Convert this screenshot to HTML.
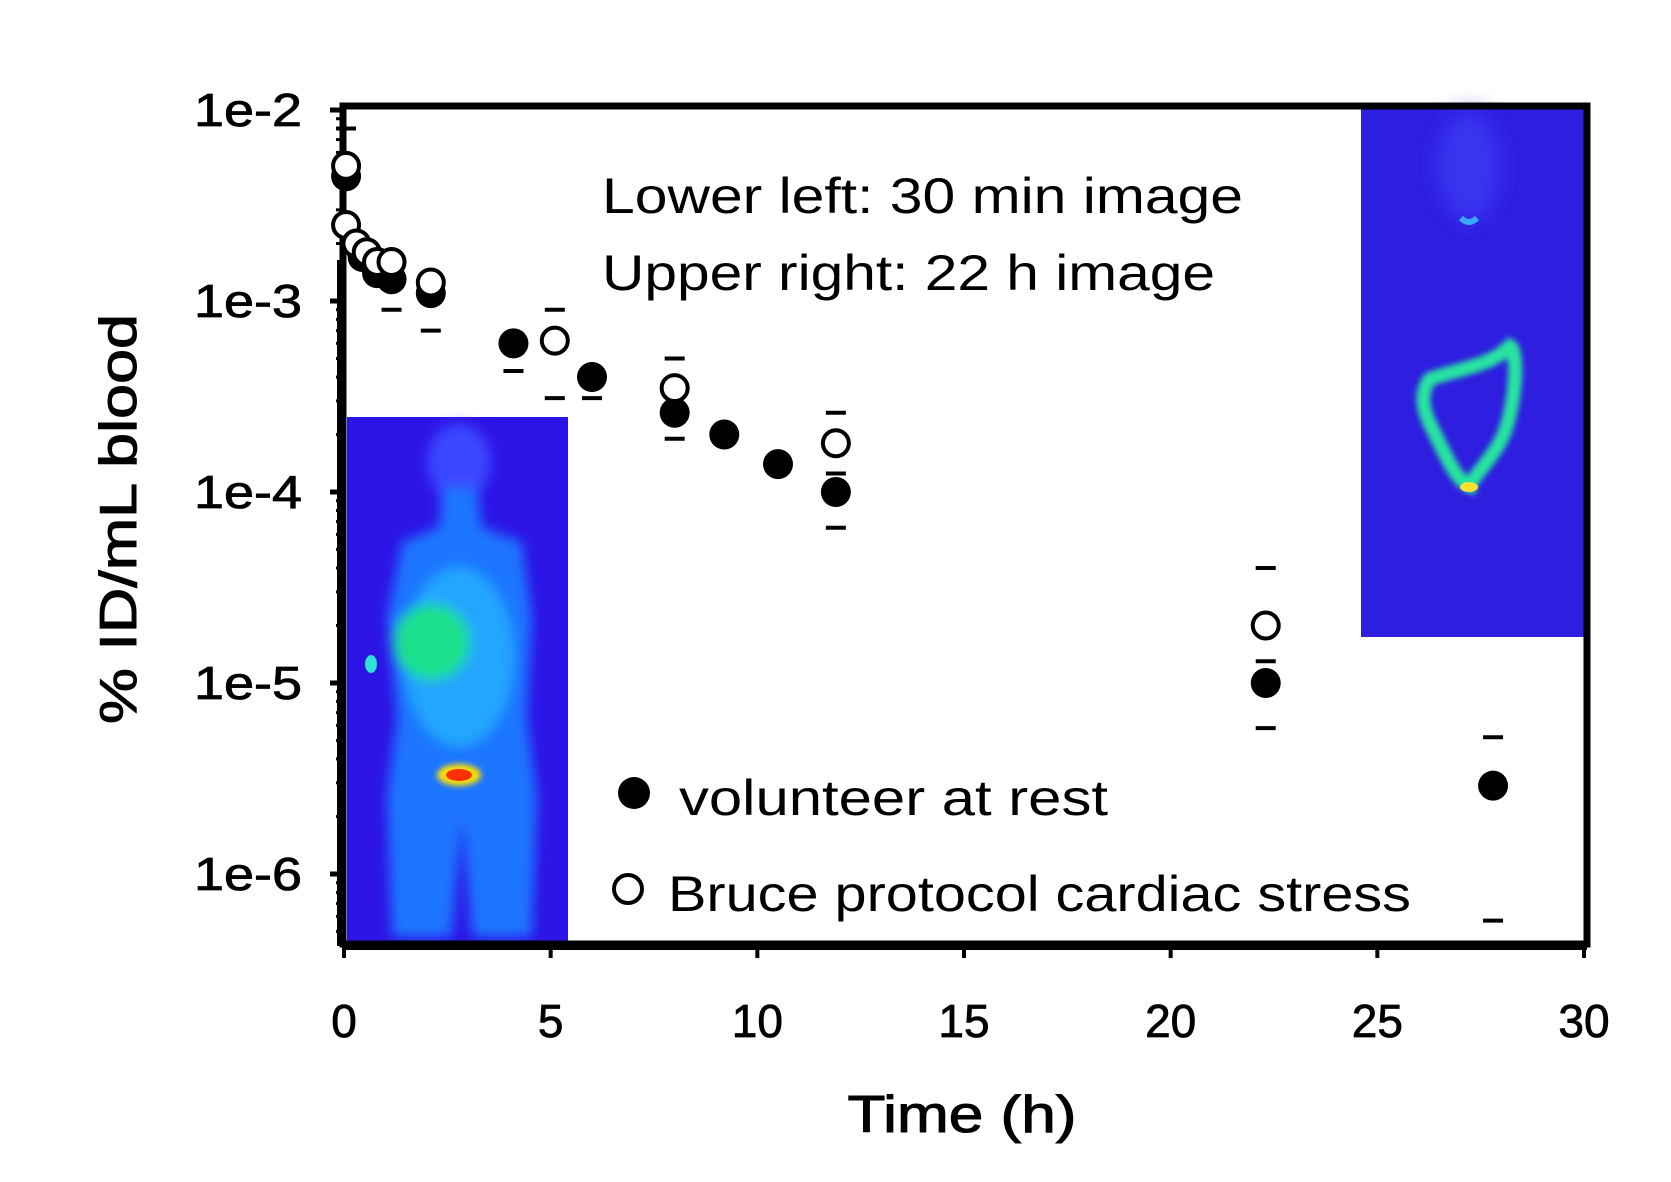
<!DOCTYPE html>
<html><head><meta charset="utf-8"><style>
html,body{margin:0;padding:0;background:#fff;}
svg{display:block;}
</style></head><body>
<svg id="chart" width="1671" height="1182" viewBox="0 0 1671 1182" xmlns="http://www.w3.org/2000/svg">
<defs>
<filter id="blur6" x="-50%" y="-50%" width="200%" height="200%"><feGaussianBlur stdDeviation="6"/></filter>
<filter id="blur3" x="-50%" y="-50%" width="200%" height="200%"><feGaussianBlur stdDeviation="3"/></filter>
<filter id="blur10" x="-50%" y="-50%" width="200%" height="200%"><feGaussianBlur stdDeviation="10"/></filter>
</defs>
<rect width="1671" height="1182" fill="#fff"/>
<g id="insets"></g>
<g id="axes"></g>
<g id="marks"></g>
<text x="602" y="213" font-family="Liberation Sans, sans-serif" font-size="50" textLength="641" lengthAdjust="spacingAndGlyphs">Lower left: 30 min image</text>
<text x="602" y="290" font-family="Liberation Sans, sans-serif" font-size="50" textLength="613" lengthAdjust="spacingAndGlyphs">Upper right: 22 h image</text>
<g>
<circle cx="634" cy="793" r="16" fill="#000"/>
<text x="679" y="815" font-family="Liberation Sans, sans-serif" font-size="50" textLength="429" lengthAdjust="spacingAndGlyphs">volunteer at rest</text>
<circle cx="628" cy="889" r="14" fill="#fff" stroke="#000" stroke-width="4"/>
<text x="668" y="911" font-family="Liberation Sans, sans-serif" font-size="50" textLength="743" lengthAdjust="spacingAndGlyphs">Bruce protocol cardiac stress</text>
</g>
<text x="962" y="1132" text-anchor="middle" font-family="Liberation Sans, sans-serif" font-size="52" textLength="229" lengthAdjust="spacingAndGlyphs" stroke="#000" stroke-width="1">Time (h)</text>
<text transform="translate(136,519) rotate(-90)" text-anchor="middle" font-family="Liberation Sans, sans-serif" font-size="52" textLength="410" lengthAdjust="spacingAndGlyphs" stroke="#000" stroke-width="1">% ID/mL blood</text>
</svg>
<script>
// data
const restTimes = [0.05, 0.45, 0.8, 1.15, 2.1, 4.1, 6.0, 8.0, 9.2, 10.5, 11.9, 22.3, 27.8];
const restValues = [4.5e-3, 1.7e-3, 1.4e-3, 1.3e-3, 1.1e-3, 6.0e-4, 4.0e-4, 2.6e-4, 2.0e-4, 1.4e-4, 1.0e-4, 1.0e-5, 2.9e-6];
const restErrLo = [null, null, null, 9e-4, 7e-4, 4.3e-4, 3.1e-4, 1.9e-4, null, null, 6.5e-5, 5.8e-6, 5.7e-7];
const restErrHi = [8e-3, null, null, null, null, null, null, null, null, null, null, null, 5.2e-6];
const stressTimes = [0.05, 0.05, 0.3, 0.55, 0.8, 1.15, 2.1, 5.1, 8.0, 11.9, 22.3];
const stressValues = [5.1e-3, 2.5e-3, 2.0e-3, 1.8e-3, 1.6e-3, 1.6e-3, 1.25e-3, 6.2e-4, 3.5e-4, 1.8e-4, 2.0e-5];
const stressErrLo = [null, null, null, null, null, null, null, 3.1e-4, null, 1.25e-4, 1.3e-5];
const stressErrHi = [null, null, null, null, null, null, null, 9e-4, 5e-4, 2.6e-4, 4e-5];
const xTicks = [0, 5, 10, 15, 20, 25, 30];
const yTicks = [1e-2, 1e-3, 1e-4, 1e-5, 1e-6];
const yTickLabels = ["1e-2", "1e-3", "1e-4", "1e-5", "1e-6"];

const NS = "http://www.w3.org/2000/svg";
const X0 = 344, X1 = 1584, XMAX = 30;
const Y_TOP = 110, DEC = 191;
function xs(t){ return X0 + (X1 - X0) * t / XMAX; }
function ys(v){ return Y_TOP + (-2 - Math.log10(v)) * DEC; }
function mk(tag, attrs, parent){ const e = document.createElementNS(NS, tag); for (const k in attrs) e.setAttribute(k, attrs[k]); parent.appendChild(e); return e; }

// insets
const ins = document.getElementById('insets');
const L = mk('g', {transform:'translate(347,417)'}, ins);


mk('rect', {x:0,y:0,width:221,height:527,fill:'#2d14e6'}, L);
const bodyL = mk('g', {filter:'url(#blur6)'}, L);
mk('ellipse', {cx:112,cy:45,rx:32,ry:38,fill:'#3a46ff'}, bodyL);
mk('path', {d:'M95 70 L130 70 L135 110 L175 125 L185 200 L180 300 L190 380 L185 520 L125 520 L115 400 L105 520 L45 520 L40 380 L50 300 L40 200 L55 125 L92 110 Z', fill:'#1f74ff'}, bodyL);
mk('ellipse', {cx:112,cy:240,rx:55,ry:90,fill:'#22a6ff'}, bodyL);
mk('ellipse', {cx:85,cy:225,rx:38,ry:38,fill:'#1ee08c'}, bodyL);
mk('ellipse', {cx:24,cy:247,rx:6,ry:9,fill:'#30e0d0'}, L);
mk('ellipse', {cx:112,cy:358,rx:22,ry:11,fill:'#ffe000',filter:'url(#blur3)'}, L);
mk('ellipse', {cx:112,cy:358,rx:13,ry:6,fill:'#ff3000'}, L);

const R = mk('g', {transform:'translate(1361,106)'}, ins);


mk('rect', {x:0,y:0,width:227,height:531,fill:'#2e1ee0'}, R);
mk('ellipse', {cx:108,cy:60,rx:32,ry:55,fill:'#3834f0',filter:'url(#blur10)'}, R);
mk('path', {d:'M100 112 q8 8 16 0', stroke:'#3aa8ff', 'stroke-width':6, fill:'none'}, R);
mk('path', {d:'M69 273 C100 262 130 260 149 240 C158 245 155 300 142 330 C130 355 112 370 109 380 C95 375 85 350 70 320 C60 300 60 285 69 273 Z', stroke:'#26e4a0', 'stroke-width':14, fill:'none', filter:'url(#blur3)'}, R);
mk('ellipse', {cx:108,cy:381,rx:9,ry:5,fill:'#ffe030'}, R);

// axes
const ax = document.getElementById('axes');
const frame = mk('path', {d:'M343 106 L1587 106 L1587 944 L343 944 Z', fill:'none', stroke:'#000', 'stroke-width':7}, ax);


mk('line', {x1:341,y1:260,x2:341,y2:946,stroke:'#000','stroke-width':8}, ax);
mk('line', {x1:343,y1:946,x2:1587,y2:946,stroke:'#000','stroke-width':8}, ax);
xTicks.forEach((t, i) => {
  const x = xs(t);
  mk('line', {x1:x,y1:944,x2:x,y2:958,stroke:'#000','stroke-width':4}, ax);
  const lb = mk('text', {x:x, y:1037, 'text-anchor':'middle', 'font-family':'Liberation Sans, sans-serif', 'font-size':46, stroke:'#000','stroke-width':0.8}, ax);
  
  
  lb.textContent = String(t);
});
yTicks.forEach((v, i) => {
  const y = ys(v);
  mk('line', {x1:330,y1:y,x2:345,y2:y,stroke:'#000','stroke-width':5}, ax);
  const lb = mk('text', {x:302, y:y+16, 'text-anchor':'end', 'font-family':'Liberation Sans, sans-serif', 'font-size':46, stroke:'#000','stroke-width':0.8, textLength:108, lengthAdjust:'spacingAndGlyphs'}, ax);
  
  
  lb.textContent = yTickLabels[i];
  for (let m = 2; m <= 9; m++) {
    const my = ys(v / 10 * m);
    if (my < 944) mk('line', {x1:336,y1:my,x2:345,y2:my,stroke:'#000','stroke-width':3}, ax);
  }
});

// marks
const mg = document.getElementById('marks');
function errBars(times, lo, hi, name){
  times.forEach((t, i) => {
    [lo[i], hi[i]].forEach(v => {
      if (v == null) return;
      const c = mk('line', {x1:xs(t)-10, y1:ys(v), x2:xs(t)+10, y2:ys(v), stroke:'#000','stroke-width':4}, mg);
      
      
    });
  });
}
errBars(restTimes, restErrLo, restErrHi, 'rest-error-cap');
errBars(stressTimes, stressErrLo, stressErrHi, 'stress-error-cap');
restTimes.forEach((t, i) => {
  const c = mk('circle', {cx:xs(t), cy:ys(restValues[i]), r:15, fill:'#000'}, mg);
  
  
});
stressTimes.forEach((t, i) => {
  const c = mk('circle', {cx:xs(t), cy:ys(stressValues[i]), r:13, fill:'#fff', stroke:'#000', 'stroke-width':4}, mg);
  
  
});
</script>
</body></html>
